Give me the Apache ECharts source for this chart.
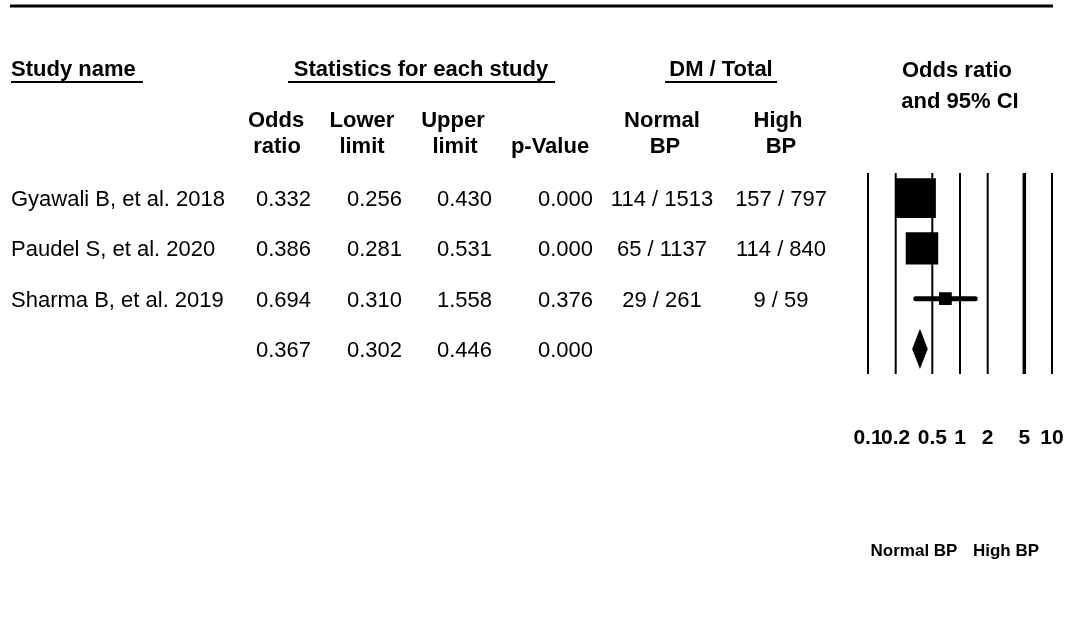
<!DOCTYPE html>
<html>
<head>
<meta charset="utf-8">
<title>Odds ratio forest plot</title>
<script src="https://cdn.jsdelivr.net/npm/echarts@6/dist/echarts.min.js"></script>
<style>
  html, body { margin: 0; padding: 0; background: #ffffff; }
  #chart { width: 1067px; height: 631px; }
</style>
</head>
<body>
<div id="chart"></div>
<script>
// Study rows (the last row is the pooled estimate)
const studyNames = ['Gyawali B, et al. 2018', 'Paudel S, et al. 2020', 'Sharma B, et al. 2019', ''];
const oddsRatio  = [0.332, 0.386, 0.694, 0.367];
const lowerLimit = [0.256, 0.281, 0.310, 0.302];
const upperLimit = [0.430, 0.531, 1.558, 0.446];
const pValue     = [0.000, 0.000, 0.376, 0.000];
const normalBP   = ['114 / 1513', '65 / 1137', '29 / 261', ''];
const highBP     = ['157 / 797', '114 / 840', '9 / 59', ''];
// Relative weights (%) that size the study squares; null marks the pooled row
const weights    = [56.5, 37.6, 5.8, null];

// Log-scale reference lines and their labels
const tickValues = [0.1, 0.2, 0.5, 1, 2, 5, 10];
const tickLabels = ['0.1', '0.2', '0.5', '1', '2', '5', '10'];
const sideLabels = ['Normal BP', 'High BP'];

const FONT = '"Liberation Sans", Arial, Helvetica, sans-serif';
const X_MIN = 0.1, X_MAX = 10;

const chart = echarts.init(document.getElementById('chart'), null, { renderer: 'canvas' });

const rowIndex = studyNames.map((_, i) => i);

function headerText(text, x, y, align) {
  return {
    type: 'text', x: x, y: y,
    style: {
      text: text, fill: '#000', font: 'bold 22px ' + FONT,
      textAlign: align || 'center', textVerticalAlign: 'middle'
    }
  };
}
function rule(x1, x2, y, w) {
  return {
    type: 'line', shape: { x1: x1, y1: y, x2: x2, y2: y },
    style: { stroke: '#000', lineWidth: w }
  };
}

const option = {
  animation: false,
  backgroundColor: '#ffffff',
  grid: { left: 868, right: 15, top: 173, height: 201, containLabel: false },
  xAxis: { type: 'log', logBase: 10, min: X_MIN, max: X_MAX, show: false },
  yAxis: { type: 'category', data: rowIndex.map(String), inverse: true, show: false },
  graphic: [
    rule(10, 1053, 6, 3),
    headerText('Study name', 11, 70, 'left'),
    rule(11, 143, 82, 2),
    headerText('Statistics for each study', 421, 70),
    rule(288, 555, 82, 2),
    headerText('DM / Total', 721, 70),
    rule(665, 777, 82, 2),
    headerText('Odds ratio', 957, 71),
    headerText('and 95% CI', 960, 102),
    headerText('Odds', 276, 121), headerText('ratio', 277, 147),
    headerText('Lower', 362, 121), headerText('limit', 362, 147),
    headerText('Upper', 453, 121), headerText('limit', 455, 147),
    headerText('p-Value', 550, 147),
    headerText('Normal', 662, 121), headerText('BP', 665, 147),
    headerText('High', 778, 121), headerText('BP', 781, 147)
  ],
  series: [
    {
      // vertical reference lines with their tick labels
      type: 'custom',
      silent: true,
      data: tickValues.map((v, i) => [v, i]),
      encode: { x: 0 },
      renderItem: function (params, api) {
        const v = api.value(0);
        const i = api.value(1);
        const x = api.coord([v, 0])[0];
        const cs = params.coordSys;
        return {
          type: 'group',
          children: [
            {
              type: 'line',
              shape: { x1: x, y1: cs.y, x2: x, y2: cs.y + cs.height },
              style: { stroke: '#000', lineWidth: v === 5 ? 3.5 : 2 }
            },
            {
              type: 'text', x: x, y: cs.y + cs.height + 64,
              style: {
                text: tickLabels[i], fill: '#000', font: 'bold 21px ' + FONT,
                textAlign: 'center', textVerticalAlign: 'middle'
              }
            }
          ]
        };
      }
    },
    {
      // study squares with CI whiskers, diamond for the pooled estimate
      type: 'custom',
      silent: true,
      data: rowIndex.map(i => [oddsRatio[i], lowerLimit[i], upperLimit[i], i]),
      encode: { x: [0, 1, 2], y: 3 },
      renderItem: function (params, api) {
        const row = api.value(3);
        const c = api.coord([api.value(0), row]);
        const lo = api.coord([api.value(1), row]);
        const hi = api.coord([api.value(2), row]);
        const band = api.size([0, 1])[1];
        const w = weights[row];
        if (w == null) {
          const h = band * 0.4;
          return {
            type: 'polygon',
            shape: { points: [[lo[0], c[1]], [c[0], c[1] - h], [hi[0], c[1]], [c[0], c[1] + h]] },
            style: { fill: '#000' }
          };
        }
        const side = 5.3 * Math.sqrt(w);
        const lw = 5;
        return {
          type: 'group',
          children: [
            {
              type: 'line',
              shape: { x1: lo[0] + lw / 2, y1: c[1], x2: hi[0] - lw / 2, y2: c[1] },
              style: { stroke: '#000', lineWidth: lw, lineCap: 'round' }
            },
            {
              type: 'rect',
              shape: { x: c[0] - side / 2, y: c[1] - side / 2, width: side, height: side },
              style: { fill: '#000' }
            }
          ]
        };
      }
    },
    {
      // table of study statistics, one text row per category band
      type: 'custom',
      silent: true,
      data: rowIndex.map(i => [1, i]),
      encode: { y: 1 },
      renderItem: function (params, api) {
        const row = api.value(1);
        const y = api.coord([1, row])[1] + 2;
        const cell = (text, x, align) => ({
          type: 'text', x: x, y: y,
          style: {
            text: text, fill: '#000', font: '22px ' + FONT,
            textAlign: align, textVerticalAlign: 'middle'
          }
        });
        return {
          type: 'group',
          children: [
            cell(studyNames[row], 11, 'left'),
            cell(oddsRatio[row].toFixed(3), 311, 'right'),
            cell(lowerLimit[row].toFixed(3), 402, 'right'),
            cell(upperLimit[row].toFixed(3), 492, 'right'),
            cell(pValue[row].toFixed(3), 593, 'right'),
            cell(normalBP[row], 662, 'center'),
            cell(highBP[row], 781, 'center')
          ]
        };
      }
    },
    {
      // direction labels centred on each side of the null value
      type: 'custom',
      silent: true,
      data: [[Math.sqrt(X_MIN * 1), 0], [Math.sqrt(X_MAX * 1), 1]],
      encode: { x: 0 },
      renderItem: function (params, api) {
        const x = api.coord([api.value(0), 0])[0];
        const cs = params.coordSys;
        return {
          type: 'text', x: x, y: cs.y + cs.height + 177,
          style: {
            text: sideLabels[api.value(1)], fill: '#000', font: 'bold 17px ' + FONT,
            textAlign: 'center', textVerticalAlign: 'middle'
          }
        };
      }
    }
  ]
};

chart.setOption(option);
</script>
</body>
</html>
